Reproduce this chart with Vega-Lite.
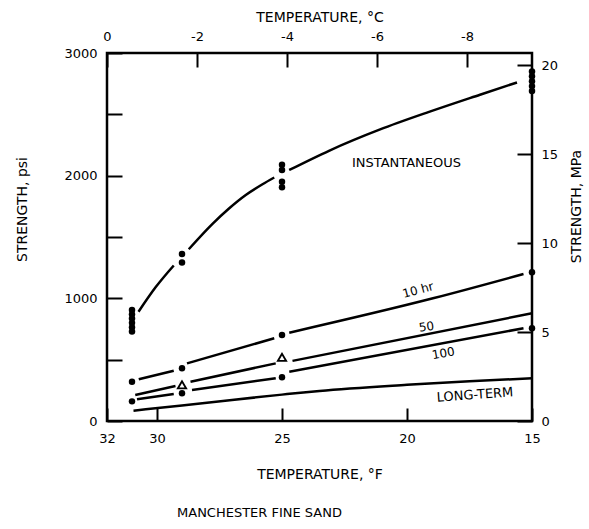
{
  "$schema": "https://vega.github.io/schema/vega-lite/v6.json",
  "width": 425,
  "height": 368,
  "autosize": "none",
  "padding": {"left": 107, "top": 53, "right": 57, "bottom": 108},
  "background": "white",
  "config": {
    "view": {"stroke": "black", "strokeWidth": 2.5},
    "font": "DejaVu Sans",
    "axis": {
      "domain": false, "grid": false, "tickColor": "black", "tickWidth": 2,
      "labelColor": "black", "labelFont": "DejaVu Sans", "labelFontSize": 13,
      "titleFont": "DejaVu Sans", "titleFontSize": 14, "titleFontWeight": "normal",
      "titleColor": "black", "labelFlush": false, "labelOverlap": false
    }
  },
  "title": {
    "text": "MANCHESTER FINE SAND", "orient": "bottom", "anchor": "middle",
    "dx": -60, "offset": 26, "fontSize": 13, "fontWeight": "normal",
    "font": "DejaVu Sans", "color": "black"
  },
  "datasets": {
    "curves": [
      {"seg": "i1", "T": 30.74, "psi": 891},
      {"seg": "i1", "T": 30.05, "psi": 1092},
      {"seg": "i1", "T": 29.33, "psi": 1268},
      {"seg": "i2", "T": 28.73, "psi": 1400},
      {"seg": "i2", "T": 27.79, "psi": 1605},
      {"seg": "i2", "T": 27.12, "psi": 1732},
      {"seg": "i2", "T": 26.45, "psi": 1842},
      {"seg": "i2", "T": 25.78, "psi": 1930},
      {"seg": "i2", "T": 25.31, "psi": 1985},
      {"seg": "i3", "T": 24.71, "psi": 2046},
      {"seg": "i3", "T": 23.1, "psi": 2205},
      {"seg": "i3", "T": 21.1, "psi": 2375},
      {"seg": "i3", "T": 19.09, "psi": 2522},
      {"seg": "i3", "T": 17.08, "psi": 2660},
      {"seg": "i3", "T": 15.6, "psi": 2760},
      {"seg": "h1", "T": 30.73, "psi": 340},
      {"seg": "h1", "T": 29.33, "psi": 410},
      {"seg": "h2", "T": 28.8, "psi": 470},
      {"seg": "h2", "T": 25.31, "psi": 674},
      {"seg": "h3", "T": 24.71, "psi": 720},
      {"seg": "h3", "T": 18.96, "psi": 1000},
      {"seg": "h3", "T": 15.34, "psi": 1198},
      {"seg": "f1", "T": 30.87, "psi": 212},
      {"seg": "f1", "T": 29.26, "psi": 285},
      {"seg": "f2", "T": 28.66, "psi": 320},
      {"seg": "f2", "T": 25.25, "psi": 470},
      {"seg": "f3", "T": 24.58, "psi": 490},
      {"seg": "f3", "T": 15.0, "psi": 878},
      {"seg": "c1", "T": 30.8, "psi": 177},
      {"seg": "c1", "T": 29.33, "psi": 220},
      {"seg": "c2", "T": 28.6, "psi": 253},
      {"seg": "c2", "T": 25.25, "psi": 348},
      {"seg": "c3", "T": 24.71, "psi": 402},
      {"seg": "c3", "T": 15.34, "psi": 756},
      {"seg": "lt", "T": 30.94, "psi": 84},
      {"seg": "lt", "T": 29.0, "psi": 127},
      {"seg": "lt", "T": 27.0, "psi": 172},
      {"seg": "lt", "T": 25.0, "psi": 215},
      {"seg": "lt", "T": 23.5, "psi": 245},
      {"seg": "lt", "T": 20.0, "psi": 295},
      {"seg": "lt", "T": 17.5, "psi": 325},
      {"seg": "lt", "T": 15.0, "psi": 348}
    ],
    "circles": [
      {"series": "inst", "T": 31, "psi": 905},
      {"series": "inst", "T": 31, "psi": 870},
      {"series": "inst", "T": 31, "psi": 835},
      {"series": "inst", "T": 31, "psi": 800},
      {"series": "inst", "T": 31, "psi": 765},
      {"series": "inst", "T": 31, "psi": 730},
      {"series": "inst", "T": 29, "psi": 1361},
      {"series": "inst", "T": 29, "psi": 1293},
      {"series": "inst", "T": 25, "psi": 2089},
      {"series": "inst", "T": 25, "psi": 2046},
      {"series": "inst", "T": 25, "psi": 1951},
      {"series": "inst", "T": 25, "psi": 1905},
      {"series": "inst", "T": 15, "psi": 2850},
      {"series": "inst", "T": 15, "psi": 2810},
      {"series": "inst", "T": 15, "psi": 2770},
      {"series": "inst", "T": 15, "psi": 2730},
      {"series": "inst", "T": 15, "psi": 2690},
      {"series": "10hr", "T": 31, "psi": 320},
      {"series": "10hr", "T": 29, "psi": 430},
      {"series": "10hr", "T": 25, "psi": 701},
      {"series": "10hr", "T": 15, "psi": 1212},
      {"series": "100", "T": 31, "psi": 160},
      {"series": "100", "T": 29, "psi": 226},
      {"series": "100", "T": 25, "psi": 356},
      {"series": "100", "T": 15, "psi": 756}
    ],
    "triangles": [
      {"series": "50", "T": 29, "psi": 295},
      {"series": "50", "T": 25, "psi": 519}
    ]
  },
  "resolve": {"scale": {"x": "independent", "y": "independent"}},
  "layer": [
    {
      "encoding": {
        "x": {
          "field": "T", "type": "quantitative",
          "scale": {"domain": [15, 32], "reverse": true, "nice": false, "zero": false},
          "axis": {
            "orient": "bottom", "title": "TEMPERATURE, °F", "values": [32, 30, 25, 20, 15],
            "tickSize": -13, "labelPadding": 24, "titleY": 53, "titleBaseline": "middle"
          }
        },
        "y": {
          "field": "psi", "type": "quantitative",
          "scale": {"domain": [0, 3000], "nice": false},
          "axis": {
            "orient": "left", "title": "STRENGTH, psi",
            "values": [0, 500, 1000, 1500, 2000, 2500, 3000],
            "labelExpr": "datum.value % 1000 === 0 ? datum.label : ''",
            "format": "d", "tickSize": -15, "labelPadding": 25,
            "titleX": -85, "titleY": 156, "titleAngle": -90,
            "titleBaseline": "middle", "titleAlign": "center"
          }
        }
      },
      "layer": [
        {
          "data": {"name": "curves"},
          "mark": {"type": "line", "interpolate": "monotone", "color": "black", "strokeWidth": 2.5},
          "encoding": {
            "detail": {"field": "seg", "type": "nominal"},
            "order": {"field": "T", "sort": "descending"}
          }
        },
        {
          "data": {"name": "circles"},
          "mark": {"type": "point", "shape": "circle", "filled": true, "color": "black", "size": 42, "opacity": 1}
        },
        {
          "data": {"name": "triangles"},
          "mark": {"type": "point", "shape": "triangle-up", "filled": false, "color": "black", "size": 70, "strokeWidth": 1.8, "opacity": 1}
        },
        {
          "data": {"values": [{"T": 20.02, "psi": 2103, "label": "INSTANTANEOUS"}]},
          "mark": {"type": "text", "font": "DejaVu Sans", "fontSize": 13, "color": "black"},
          "encoding": {"text": {"field": "label"}}
        },
        {
          "data": {"values": [{"T": 19.56, "psi": 1068, "label": "10 hr"}]},
          "mark": {"type": "text", "font": "DejaVu Sans", "fontSize": 12, "angle": -15, "color": "black"},
          "encoding": {"text": {"field": "label"}}
        },
        {
          "data": {"values": [{"T": 19.22, "psi": 769, "label": "50"}]},
          "mark": {"type": "text", "font": "DejaVu Sans", "fontSize": 12, "angle": -8, "color": "black"},
          "encoding": {"text": {"field": "label"}}
        },
        {
          "data": {"values": [{"T": 18.55, "psi": 552, "label": "100"}]},
          "mark": {"type": "text", "font": "DejaVu Sans", "fontSize": 12, "angle": -10, "color": "black"},
          "encoding": {"text": {"field": "label"}}
        },
        {
          "data": {"values": [{"T": 17.28, "psi": 212, "label": "LONG-TERM"}]},
          "mark": {"type": "text", "font": "DejaVu Sans", "fontSize": 13, "angle": -4, "color": "black"},
          "encoding": {"text": {"field": "label"}}
        }
      ]
    },
    {
      "data": {"values": [{"C": 0, "MPa": 0}]},
      "mark": {"type": "point", "opacity": 0},
      "encoding": {
        "x": {
          "field": "C", "type": "quantitative",
          "scale": {"domain": [-9.4444, 0], "reverse": true, "nice": false, "zero": false},
          "axis": {
            "orient": "top", "title": "TEMPERATURE, °C", "values": [0, -2, -4, -6, -8],
            "labelExpr": "datum.value == 0 ? '0' : '-' + abs(datum.value)",
            "tickSize": -14, "labelPadding": 24, "titleY": -36, "titleBaseline": "middle"
          }
        },
        "y": {
          "field": "MPa", "type": "quantitative",
          "scale": {"domain": [0, 20.684], "nice": false},
          "axis": {
            "orient": "right", "title": "STRENGTH, MPa", "values": [0, 5, 10, 15, 20],
            "tickSize": -15, "labelPadding": 24,
            "titleX": 44, "titleY": 153, "titleAngle": -90,
            "titleBaseline": "middle", "titleAlign": "center"
          }
        }
      }
    }
  ]
}
